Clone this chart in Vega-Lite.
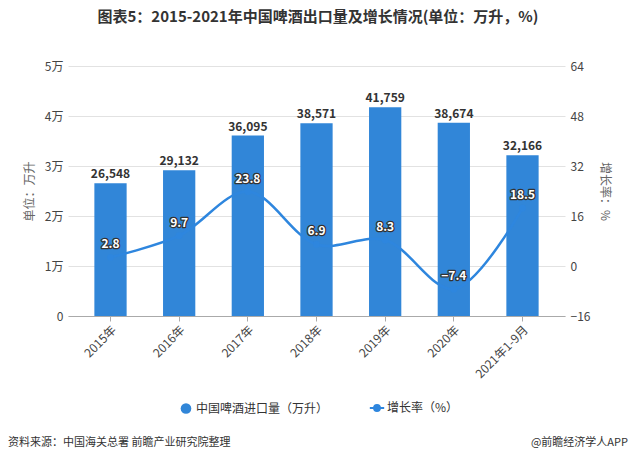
{
  "$schema": "https://vega.github.io/schema/vega-lite/v6.json",
  "background": "white",
  "padding": {"left": 8, "top": 10, "right": 5, "bottom": 5},
  "title": {"text": "图表5：2015-2021年中国啤酒出口量及增长情况(单位：万升，%)", "fontSize": 15, "fontWeight": "bold", "font": "Noto Sans CJK SC", "color": "#333333", "anchor": "middle", "offset": 35},
  "config": {"font": "Noto Sans CJK SC", "view": {"stroke": null}},
  "datasets": {
    "main": [
      {"year": "2015年", "volume": 26548, "growth": 2.8},
      {"year": "2016年", "volume": 29132, "growth": 9.7},
      {"year": "2017年", "volume": 36095, "growth": 23.8},
      {"year": "2018年", "volume": 38571, "growth": 6.9},
      {"year": "2019年", "volume": 41759, "growth": 8.3},
      {"year": "2020年", "volume": 38674, "growth": -7.4},
      {"year": "2021年1-9月", "volume": 32166, "growth": 18.5}
    ],
    "footer": [
      {"t": "资料来源：中国海关总署 前瞻产业研究院整理", "p": 0},
      {"t": "@前瞻经济学人APP", "p": 1}
    ]
  },
  "bounds": "flush",
  "spacing": 122,
  "vconcat": [
    {
      "width": 497,
      "height": 250,
      "data": {"name": "main"},
      "encoding": {
        "x": {"field": "year", "type": "ordinal", "sort": null,
          "scale": {"paddingInner": 0.53, "paddingOuter": 0.384},
          "axis": {"title": null, "labelAngle": -45, "labelFontSize": 12, "labelColor": "#444444", "domainColor": "#aaaaaa", "tickColor": "#aaaaaa", "tickSize": 5, "labelPadding": 3}}
      },
      "layer": [
        {
          "encoding": {
            "y": {"field": "volume", "type": "quantitative",
              "scale": {"domain": [0, 50000]},
              "axis": {"orient": "left", "values": [0, 10000, 20000, 30000, 40000, 50000], "labelExpr": "datum.value == 0 ? '0' : (datum.value / 10000) + '万'", "title": "单位：万升", "titleFontSize": 12, "titleFontWeight": "normal", "titleColor": "#666666", "titlePadding": 8, "labelFontSize": 12, "labelColor": "#444444", "domain": false, "ticks": false, "labelPadding": 5, "gridColor": "#e2e2e2"}}
          },
          "layer": [
            {
              "mark": {"type": "bar"},
              "encoding": {
                "color": {"datum": "中国啤酒进口量（万升）", "type": "nominal",
                  "scale": {"domain": ["中国啤酒进口量（万升）", "增长率（%）"], "range": ["#3186d8", "#2e86de"]},
                  "legend": {"title": null, "orient": "none", "direction": "horizontal", "legendX": 112, "legendY": 336,
                    "symbolSize": 113, "labelFontSize": 12, "labelColor": "#333333", "columnPadding": 36, "symbolLimit": 0,
                    "encode": {"symbols": {"update": {
                      "shape": {"signal": "datum.value === '增长率（%）' ? 'M-1.35,0L1.35,0M-0.55,0A0.55,0.55,0,1,1,0.55,0A0.55,0.55,0,1,1,-0.55,0Z' : 'circle'"},
                      "fill": {"signal": "datum.value === '增长率（%）' ? '#2e86de' : '#3186d8'"},
                      "stroke": {"signal": "datum.value === '增长率（%）' ? '#2e86de' : '#3186d8'"},
                      "strokeWidth": {"signal": "datum.value === '增长率（%）' ? 2 : 0"},
                      "opacity": {"value": 1}
                    }}}}
                }
              }
            },
            {
              "mark": {"type": "text", "dy": -9, "fontSize": 12, "fontWeight": "bold", "color": "#333333"},
              "encoding": {"text": {"field": "volume", "type": "quantitative", "format": ","}}
            }
          ]
        },
        {
          "encoding": {
            "y": {"field": "growth", "type": "quantitative",
              "scale": {"domain": [-16, 64]},
              "axis": {"orient": "right", "values": [-16, 0, 16, 32, 48, 64], "title": "增长率：%", "titleFontSize": 12, "titleFontWeight": "normal", "titleColor": "#666666", "titlePadding": 8, "labelFontSize": 12, "labelColor": "#444444", "domain": false, "ticks": false, "labelPadding": 5, "grid": false}}
          },
          "layer": [
            {
              "mark": {"type": "line", "interpolate": "catmull-rom", "strokeWidth": 2.5, "point": {"filled": true, "size": 45}},
              "encoding": {
                "color": {"datum": "增长率（%）", "type": "nominal"}
              }
            },
            {
              "mark": {"type": "text", "dy": -13, "fontSize": 12, "fontWeight": "bold", "color": "#333333", "stroke": "#333333", "strokeWidth": 2.5, "strokeJoin": "round"},
              "encoding": {"text": {"field": "growth", "type": "quantitative", "format": ".1f"}}
            },
            {
              "mark": {"type": "text", "dy": -13, "fontSize": 12, "fontWeight": "bold", "color": "#ffffff"},
              "encoding": {"text": {"field": "growth", "type": "quantitative", "format": ".1f"}}
            }
          ]
        }
      ],
      "resolve": {"scale": {"y": "independent"}}
    },
    {
      "width": 497,
      "height": 10,
      "data": {"name": "footer"},
      "layer": [
        {
          "transform": [{"filter": "datum.p == 0"}],
          "mark": {"type": "text", "align": "left", "baseline": "middle", "fontSize": 11, "color": "#333333"},
          "encoding": {
            "x": {"field": "p", "type": "quantitative", "scale": {"domain": [0, 1], "range": [-60, 560]}, "axis": null},
            "text": {"field": "t", "type": "nominal"}
          }
        },
        {
          "transform": [{"filter": "datum.p == 1"}],
          "mark": {"type": "text", "align": "right", "baseline": "middle", "fontSize": 11, "color": "#333333"},
          "encoding": {
            "x": {"field": "p", "type": "quantitative", "scale": {"domain": [0, 1], "range": [-60, 560]}, "axis": null},
            "text": {"field": "t", "type": "nominal"}
          }
        }
      ]
    }
  ]
}
